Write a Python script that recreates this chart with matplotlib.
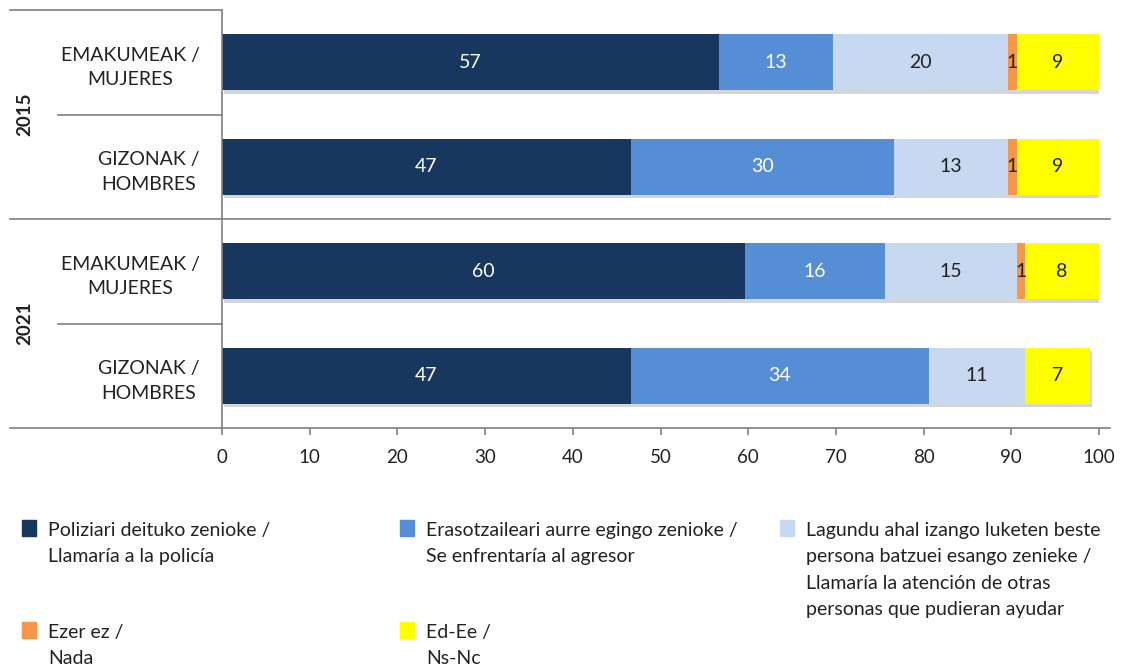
import matplotlib
matplotlib.use("Agg")
import matplotlib.pyplot as plt
import matplotlib.patheffects as pe
from matplotlib.patches import Rectangle
import numpy as np

plt.rcParams['font.family'] = ['Lato', 'DejaVu Sans']

# categories, top to bottom
groups = ["EMAKUMEAK /\nMUJERES", "GIZONAK /\nHOMBRES",
          "EMAKUMEAK /\nMUJERES", "GIZONAK /\nHOMBRES"]
years = ["2015", "2021"]

series_names = [
    "Poliziari deituko zenioke /\nLlamaría a la policía",
    "Erasotzaileari aurre egingo zenioke /\nSe enfrentaría al agresor",
    "Lagundu ahal izango luketen beste\npersona batzuei esango zenieke /\nLlamaría la atención de otras\npersonas que pudieran ayudar",
    "Ezer ez /\nNada",
    "Ed-Ee /\nNs-Nc",
]
colors = ["#17375E", "#558ED5", "#C6D9F1", "#F79646", "#FFFF00"]
text_colors = ["white", "white", "#222222", "#222222", "#222222"]

# values per series (one value per category row)
police = [56.7, 46.6, 59.6, 46.6]
confront = [13.0, 30.0, 16.0, 34.0]
others = [19.9, 13.0, 15.0, 11.0]
nothing = [1.0, 1.0, 1.0, 0.0]
dk_na = [9.4, 9.4, 8.4, 7.4]
series = [police, confront, others, nothing, dk_na]

W, H = 1123, 667
fig = plt.figure(figsize=(W / 100, H / 100), dpi=100)
ax = fig.add_axes([222 / W, 1 - 428 / H, 877 / W, 418 / H])

y = np.arange(len(groups))
left = np.zeros(len(groups))
shadow = [pe.SimplePatchShadow(offset=(1.5, -2.5), shadow_rgbFace="#888888", alpha=0.35), pe.Normal()]
for vals, col, tcol in zip(series, colors, text_colors):
    vals = np.array(vals)
    bars = ax.barh(y, vals, left=left, height=0.54, color=col, edgecolor="none")
    for b in bars:
        b.set_path_effects(shadow)
    labels = [f"{round(v):d}" if v > 0 else "" for v in vals]
    ax.bar_label(bars, labels=labels, label_type="center", color=tcol, fontsize=14)
    left += vals

ax.set_xlim(0, 100)
ax.set_ylim(3.5, -0.5)
ax.set_xticks(np.arange(0, 101, 10))
ax.tick_params(axis="x", direction="out", length=5, width=1.2, color="#808080",
               labelsize=13.5, pad=10, labelcolor="#222222")
ax.set_yticks(y)
ax.set_yticklabels(groups, fontsize=14, color="#222222", linespacing=1.55)
for t in ax.get_yticklabels():
    t.set_multialignment("center")
ax.tick_params(axis="y", length=0, pad=16)

for s in ["top", "right"]:
    ax.spines[s].set_visible(False)
ax.spines["bottom"].set_visible(False)
ax.spines["left"].set_color("#808080")
ax.spines["left"].set_linewidth(1.2)

tr = ax.get_yaxis_transform()
line_kw = dict(color="#808080", lw=1.2, transform=tr, clip_on=False)
x_far = -(222 - 10) / 877
x_near = -(222 - 58) / 877
ax.plot([x_far, 0], [-0.5, -0.5], **line_kw)
ax.plot([x_near, 0], [0.5, 0.5], **line_kw)
ax.plot([x_far, 1.0125], [1.5, 1.5], **line_kw)
ax.plot([x_near, 0], [2.5, 2.5], **line_kw)
ax.plot([x_far, 1.0125], [3.5, 3.5], **line_kw)

for i, yr in enumerate(years):
    ax.text(-(222 - 25) / 877, 2 * i + 0.5, yr, transform=tr, rotation=90,
            ha="center", va="center", fontsize=13.5, fontweight="bold", color="#222222")

# legend drawn by hand in figure pixels
leg_pos = [(22, 528), (400, 528), (780, 528), (22, 630), (400, 630)]
for (px, py), name, col in zip(leg_pos, series_names, colors):
    fig.patches.append(Rectangle((px / W, 1 - (py + 8) / H), 14 / W, 16 / H,
                                 transform=fig.transFigure, color=col))
    fig.text((px + 26) / W, 1 - (py - 6) / H, name, ha="left", va="top",
             fontsize=14, color="#222222", linespacing=1.67)

fig.savefig("out.png", dpi=100)
